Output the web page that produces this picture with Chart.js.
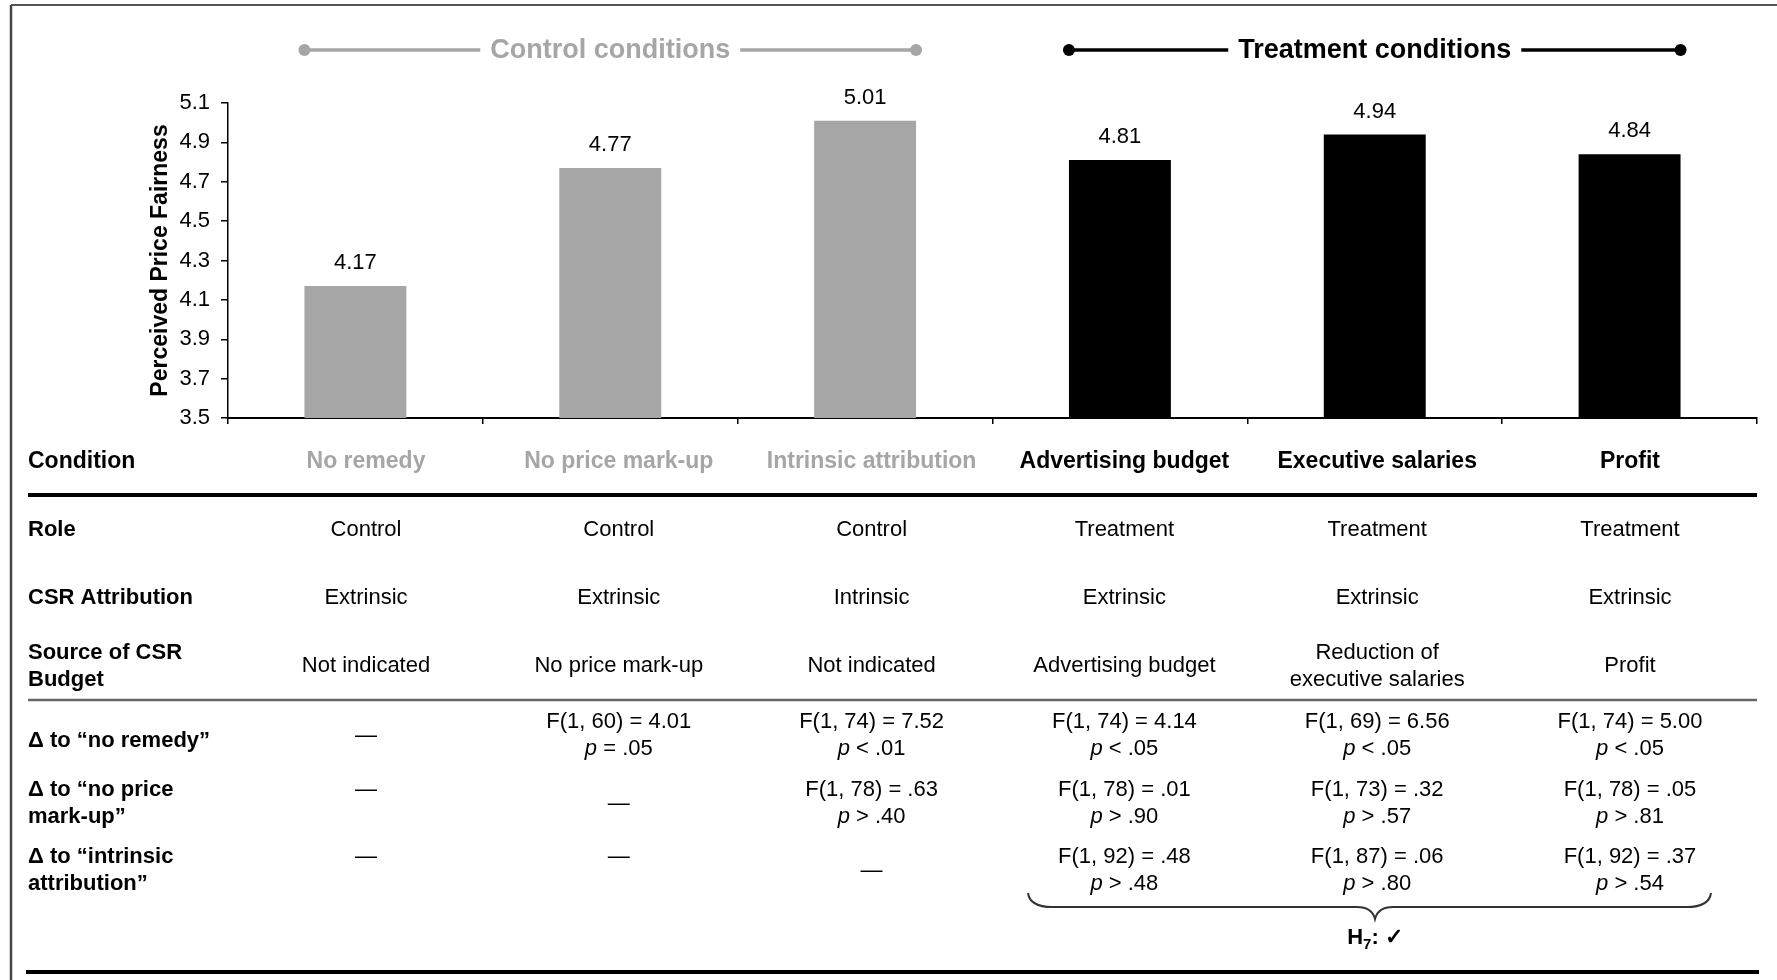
<!DOCTYPE html>
<html><head><meta charset="utf-8">
<script src="https://cdn.jsdelivr.net/npm/chart.js@4.4.1/dist/chart.umd.min.js"></script>
<style>html,body{margin:0;padding:0;background:#fff;overflow:hidden}canvas{display:block}</style>
</head><body>
<canvas id="c" width="1777" height="980"></canvas>
<script>
// ---------- data ----------
const categories = ['No remedy', 'No price mark-up', 'Intrinsic attribution', 'Advertising budget', 'Executive salaries', 'Profit'];
const values = [4.17, 4.77, 5.01, 4.81, 4.94, 4.84];
const groups = ['Control', 'Control', 'Control', 'Treatment', 'Treatment', 'Treatment'];
const groupTitles = {Control: 'Control conditions', Treatment: 'Treatment conditions'};
const roles = ['Control', 'Control', 'Control', 'Treatment', 'Treatment', 'Treatment'];
const attributions = ['Extrinsic', 'Extrinsic', 'Intrinsic', 'Extrinsic', 'Extrinsic', 'Extrinsic'];
const sources = ['Not indicated', 'No price mark-up', 'Not indicated', 'Advertising budget', 'Reduction of\nexecutive salaries', 'Profit'];
const fNoRemedy = [null, 'F(1, 60) = 4.01', 'F(1, 74) = 7.52', 'F(1, 74) = 4.14', 'F(1, 69) = 6.56', 'F(1, 74) = 5.00'];
const pNoRemedy = [null, '= .05', '< .01', '< .05', '< .05', '< .05'];
const fNoMarkup = [null, null, 'F(1, 78) = .63', 'F(1, 78) = .01', 'F(1, 73) = .32', 'F(1, 78) = .05'];
const pNoMarkup = [null, null, '> .40', '> .90', '> .57', '> .81'];
const fIntrinsic = [null, null, null, 'F(1, 92) = .48', 'F(1, 87) = .06', 'F(1, 92) = .37'];
const pIntrinsic = [null, null, null, '> .48', '> .80', '> .54'];
const rowLabels = ['Condition', 'Role', 'CSR Attribution', 'Source of CSR\nBudget', 'Δ to “no remedy”', 'Δ to “no price\nmark-up”', 'Δ to “intrinsic\nattribution”'];
const yMin = 3.5, yMax = 5.1, yStep = 0.2;
const yTitle = 'Perceived Price Fairness';
const hypothesis = {main: 'H', sub: '7', rest: ': ✓'};

// ---------- style ----------
const FONT = '"Liberation Sans", Arial, Helvetica, sans-serif';
const GRAY = '#a6a6a6';
const colorOf = g => g === 'Control' ? GRAY : '#000000';

function txt(ctx, s, x, y, o = {}) {
  const size = o.size || 22;
  ctx.font = (o.italic ? 'italic ' : '') + (o.bold ? 'bold ' : '') + size + 'px ' + FONT;
  ctx.fillStyle = o.color || '#000';
  ctx.textAlign = o.align || 'center';
  ctx.textBaseline = 'middle';
  ctx.fillText(s, x, y);
}
function measure(ctx, s, size, bold, italic) {
  ctx.font = (italic ? 'italic ' : '') + (bold ? 'bold ' : '') + size + 'px ' + FONT;
  return ctx.measureText(s).width;
}
function line(ctx, x1, y1, x2, y2, w, c) {
  ctx.beginPath(); ctx.moveTo(x1, y1); ctx.lineTo(x2, y2);
  ctx.lineWidth = w; ctx.strokeStyle = c; ctx.stroke();
}

const overlay = {
  id: 'overlay',
  afterDatasetsDraw(chart) {
    const ctx = chart.ctx;
    const meta = chart.getDatasetMeta(0);
    ctx.save();
    // value labels
    meta.data.forEach((bar, i) => {
      txt(ctx, values[i].toFixed(2), bar.x, bar.y - 23, {size: 22});
    });
    // group headers
    const hy = 50;
    Object.keys(groupTitles).forEach(g => {
      const idx = groups.map((v, i) => v === g ? i : -1).filter(i => i >= 0);
      const b0 = meta.data[idx[0]], b1 = meta.data[idx[idx.length - 1]];
      const x0 = b0.x - b0.width / 2, x1 = b1.x + b1.width / 2;
      const cx = (x0 + x1) / 2;
      const col = colorOf(g);
      const w = measure(ctx, groupTitles[g], 27, true);
      txt(ctx, groupTitles[g], cx, hy + 1, {size: 27, bold: true, color: col});
      line(ctx, x0, hy, cx - w / 2 - 10, hy, 3.5, col);
      line(ctx, cx + w / 2 + 10, hy, x1, hy, 3.5, col);
      ctx.fillStyle = col;
      [x0, x1].forEach(x => { ctx.beginPath(); ctx.arc(x, hy, 6, 0, Math.PI * 2); ctx.fill(); });
    });
    ctx.restore();
  },
  afterDraw(chart) {
    const ctx = chart.ctx;
    ctx.save();
    // frame
    line(ctx, 11, 5, 1777, 5, 2, '#555');
    line(ctx, 11, 5, 11, 980, 2.5, '#444');

    const colX = categories.map((_, i) => 366 + i * 252.8);
    const LX = 28;
    // condition row
    txt(ctx, rowLabels[0], LX, 462, {size: 23, bold: true, align: 'left'});
    categories.forEach((c, i) => txt(ctx, c, colX[i], 462, {size: 23, bold: true, color: colorOf(groups[i])}));
    line(ctx, 28, 495, 1757, 495, 4, '#000');

    // role / attribution
    txt(ctx, rowLabels[1], LX, 530, {bold: true, align: 'left'});
    roles.forEach((r, i) => txt(ctx, r, colX[i], 530));
    txt(ctx, rowLabels[2], LX, 598, {bold: true, align: 'left'});
    attributions.forEach((a, i) => txt(ctx, a, colX[i], 598));

    // source
    const drawMulti = (s, x, yc, o) => {
      const parts = s.split('\n');
      const lh = 27;
      parts.forEach((p, k) => txt(ctx, p, x, yc + (k - (parts.length - 1) / 2) * lh, o));
    };
    drawMulti(rowLabels[3], LX, 666, {bold: true, align: 'left'});
    sources.forEach((s, i) => drawMulti(s, colX[i], 666, {}));
    line(ctx, 28, 700, 1757, 700, 2.5, '#666');

    // delta rows
    const rows = [[fNoRemedy, pNoRemedy], [fNoMarkup, pNoMarkup], [fIntrinsic, pIntrinsic]];
    const fY = [722, 790, 857];
    const LH = 27;
    rows.forEach(([fs, ps], r) => {
      const lab = rowLabels[4 + r];
      if (lab.includes('\n')) drawMulti(lab, LX, fY[r] + LH / 2, {bold: true, align: 'left'});
      else txt(ctx, lab, LX, fY[r] + 19, {bold: true, align: 'left'});
      fs.forEach((f, c) => {
        const x = colX[c];
        if (f === null) {
          const y = (c === r) ? fY[r] + LH / 2 : fY[r];
          txt(ctx, '—', x, y);
          return;
        }
        txt(ctx, f, x, fY[r]);
        const rest = ' ' + ps[c];
        const w1 = measure(ctx, 'p', 22, false, true);
        const w2 = measure(ctx, rest, 22, false, false);
        const sx = x - (w1 + w2) / 2;
        txt(ctx, 'p', sx, fY[r] + LH, {italic: true, align: 'left'});
        txt(ctx, rest, sx + w1, fY[r] + LH, {align: 'left'});
      });
    });

    // brace
    const bx0 = 1028, bx1 = 1711, tip = 1375, by = 907, byTop = 893, byTip = 919;
    ctx.beginPath();
    ctx.moveTo(bx0, byTop);
    ctx.quadraticCurveTo(bx0 + 2, by, bx0 + 24, by);
    ctx.lineTo(tip - 18, by);
    ctx.quadraticCurveTo(tip - 3, by, tip, byTip);
    ctx.quadraticCurveTo(tip + 3, by, tip + 18, by);
    ctx.lineTo(bx1 - 24, by);
    ctx.quadraticCurveTo(bx1 - 2, by, bx1, byTop);
    ctx.lineWidth = 2; ctx.strokeStyle = '#333'; ctx.stroke();

    // hypothesis
    const wH = measure(ctx, hypothesis.main, 22, true);
    const wS = measure(ctx, hypothesis.sub, 15, true);
    const wR = measure(ctx, hypothesis.rest, 22, true);
    let hx = tip - (wH + wS + wR) / 2;
    txt(ctx, hypothesis.main, hx, 938, {bold: true, align: 'left'}); hx += wH;
    txt(ctx, hypothesis.sub, hx, 945, {size: 15, bold: true, align: 'left'}); hx += wS;
    txt(ctx, hypothesis.rest, hx, 938, {bold: true, align: 'left'});

    // bottom rule
    line(ctx, 26, 972, 1759, 972, 4, '#000');
    ctx.restore();
  }
};

new Chart(document.getElementById('c'), {
  type: 'bar',
  data: {
    labels: categories,
    datasets: [{
      data: values,
      backgroundColor: groups.map(colorOf),
      borderWidth: 0,
      barPercentage: 0.4,
      categoryPercentage: 1
    }]
  },
  options: {
    responsive: false,
    devicePixelRatio: 1,
    animation: false,
    layout: {padding: {left: 143, top: 103, right: 20, bottom: 552}},
    plugins: {legend: {display: false}, tooltip: {enabled: false}},
    scales: {
      x: {
        offset: true,
        grid: {display: true, drawOnChartArea: false, drawTicks: true, tickLength: 6, color: '#000', lineWidth: 1.5, offset: true},
        border: {display: true, color: '#000', width: 2},
        ticks: {display: false},
        afterFit(a) { a.height = 10; }
      },
      y: {
        min: yMin, max: yMax,
        ticks: {stepSize: yStep, callback: v => Number(v).toFixed(1), font: {family: FONT, size: 22}, color: '#000', padding: 11},
        grid: {drawOnChartArea: false, drawTicks: true, tickLength: 7, color: '#000', lineWidth: 1.5},
        border: {display: true, color: '#000', width: 1.5},
        title: {display: true, text: yTitle, font: {family: FONT, size: 23, weight: 'bold'}, color: '#000', padding: {top: 4, bottom: 4}},
        afterFit(a) { a.width = 85; }
      }
    }
  },
  plugins: [overlay]
});
</script>
</body></html>
